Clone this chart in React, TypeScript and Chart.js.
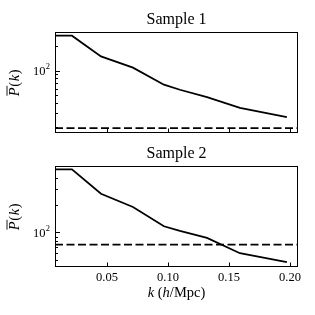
import { useEffect, useRef } from 'react';
import { Chart, registerables } from 'chart.js';

Chart.register(...registerables);

// ---- data ----
const kBins = [0.0074, 0.0213, 0.0451, 0.0713, 0.0967, 0.1098, 0.132, 0.159, 0.1975];
const powerSample1 = [271, 271, 150, 109, 67, 58, 47, 34.5, 26.6];
const powerSample2 = [497, 497, 267, 191, 117, 104, 87, 59, 47];
const noiseSample1 = 19.4;
const noiseSample2 = 73.6;
const panelTitles = ['Sample 1', 'Sample 2'];
const kRange = [0.0074, 0.2066];
const yRangeSample1 = [16.9, 301];
const yRangeSample2 = [41.6, 541];
const xTickValues = [0.05, 0.1, 0.15, 0.2];
const xTickLabels = ['0.05', '0.10', '0.15', '0.20'];
const yLabeledTickValue = 100;
const yLabeledTickBase = '10';
const yLabeledTickExp = '2';
const xAxisLabelParts = [
  { t: 'k', italic: true },
  { t: ' (', italic: false },
  { t: 'h', italic: true },
  { t: '/Mpc)', italic: false },
];
const yAxisLabelParts = [
  { t: 'P', italic: true, bar: true },
  { t: '(', italic: false },
  { t: 'k', italic: true },
  { t: ')', italic: false },
];

const SERIF = '"Liberation Serif", "Times New Roman", serif';

function fontStr(size: number, italic: boolean) {
  return `${italic ? 'italic ' : ''}${size}px ${SERIF}`;
}

const decorPlugin = {
  id: 'decor',
  afterDraw(chart: any, _args: any, opts: any) {
    const { ctx, chartArea: a, scales } = chart;
    const xs = scales.x;
    const ys = scales.y;
    ctx.save();
    ctx.strokeStyle = '#000';
    ctx.fillStyle = '#000';
    ctx.lineWidth = 1;
    // frame
    ctx.strokeRect(a.left + 0.5, a.top + 0.5, a.right - a.left - 1, a.bottom - a.top - 1);
    // x ticks (inward)
    ctx.beginPath();
    for (const v of xTickValues) {
      const px = Math.round(xs.getPixelForValue(v)) + 0.5;
      ctx.moveTo(px, a.bottom);
      ctx.lineTo(px, a.bottom - 4.5);
    }
    // y ticks (log, inward)
    const min = ys.min;
    const max = ys.max;
    for (let e = Math.floor(Math.log10(min)); e <= Math.ceil(Math.log10(max)); e++) {
      for (let m = 1; m <= 9; m++) {
        const v = m * Math.pow(10, e);
        if (v < min || v > max) continue;
        const py = Math.round(ys.getPixelForValue(v)) + 0.5;
        ctx.moveTo(a.left, py);
        ctx.lineTo(a.left + (m === 1 ? 5 : 3), py);
      }
    }
    ctx.stroke();

    // y tick label 10^2
    const py100 = ys.getPixelForValue(yLabeledTickValue);
    ctx.font = fontStr(8.5, false);
    const wExp = ctx.measureText(yLabeledTickExp).width;
    ctx.textAlign = 'left';
    ctx.textBaseline = 'alphabetic';
    ctx.fillText(yLabeledTickExp, 50 - wExp, py100 - 1.5);
    ctx.font = fontStr(12.5, false);
    ctx.textAlign = 'right';
    ctx.fillText(yLabeledTickBase, 50 - wExp - 0.3, py100 + 4.2);

    // title
    ctx.font = fontStr(16, false);
    ctx.textAlign = 'center';
    ctx.fillText(opts.title, (a.left + a.right) / 2, a.top - 8.5);

    // y axis label (rotated)
    const yFs = 14.5;
    ctx.save();
    ctx.translate(19, (a.top + a.bottom) / 2);
    ctx.rotate(-Math.PI / 2);
    let total = 0;
    for (const p of yAxisLabelParts) {
      ctx.font = fontStr(yFs, p.italic);
      total += ctx.measureText(p.t).width + 0.6;
    }
    let cx = -total / 2;
    ctx.textAlign = 'left';
    for (const p of yAxisLabelParts) {
      ctx.font = fontStr(yFs, p.italic);
      const w = ctx.measureText(p.t).width;
      ctx.fillText(p.t, cx, 0);
      if ((p as any).bar) {
        ctx.beginPath();
        ctx.lineWidth = 0.9;
        ctx.moveTo(cx + 0.5, -12);
        ctx.lineTo(cx + w + 1.5, -12);
        ctx.stroke();
      }
      cx += w + 0.6;
    }
    ctx.restore();

    if (opts.showX) {
      // x tick labels
      ctx.font = fontStr(12.5, false);
      ctx.textAlign = 'center';
      xTickValues.forEach((v, i) => {
        ctx.fillText(xTickLabels[i], xs.getPixelForValue(v), a.bottom + 13.8);
      });
      // x axis label
      let tw = 0;
      for (const p of xAxisLabelParts) {
        ctx.font = fontStr(14.5, p.italic);
        tw += ctx.measureText(p.t).width;
      }
      let lx = (a.left + a.right) / 2 - tw / 2;
      ctx.textAlign = 'left';
      for (const p of xAxisLabelParts) {
        ctx.font = fontStr(14.5, p.italic);
        ctx.fillText(p.t, lx, a.bottom + 30);
        lx += ctx.measureText(p.t).width;
      }
    }
    ctx.restore();
  },
};

function makeConfig(power: number[], noise: number, yRange: number[], title: string, showX: boolean, padding: any): any {
  return {
    type: 'line',
    data: {
      datasets: [
        {
          data: kBins.map((k, i) => ({ x: k, y: power[i] })),
          borderColor: '#000',
          borderWidth: 1.8,
          pointRadius: 0,
          tension: 0,
          fill: false,
        },
        {
          data: [
            { x: kRange[0], y: noise },
            { x: kRange[1], y: noise },
          ],
          borderColor: '#000',
          borderWidth: 1.8,
          borderDash: [8, 3.5],
          pointRadius: 0,
          fill: false,
        },
      ],
    },
    options: {
      animation: false,
      responsive: false,
      devicePixelRatio: 1,
      layout: { padding },
      plugins: {
        legend: { display: false },
        tooltip: { enabled: false },
        decor: { title, showX },
      },
      scales: {
        x: { type: 'linear', min: kRange[0], max: kRange[1], display: false },
        y: { type: 'logarithmic', min: yRange[0], max: yRange[1], display: false },
      },
    },
    plugins: [decorPlugin],
  };
}

export default function App() {
  const topRef = useRef<HTMLCanvasElement | null>(null);
  const botRef = useRef<HTMLCanvasElement | null>(null);

  useEffect(() => {
    const c1 = new Chart(
      topRef.current as HTMLCanvasElement,
      makeConfig(powerSample1, noiseSample1, yRangeSample1, panelTitles[0], false, { left: 55, right: 17, top: 32, bottom: 7 })
    );
    const c2 = new Chart(
      botRef.current as HTMLCanvasElement,
      makeConfig(powerSample2, noiseSample2, yRangeSample2, panelTitles[1], true, { left: 55, right: 17, top: 26, bottom: 48 })
    );
    return () => {
      c1.destroy();
      c2.destroy();
    };
  }, []);

  return (
    <div style={{ position: 'fixed', left: 0, top: 0, width: 315, height: 315, background: '#fff' }}>
      <canvas ref={topRef} width={315} height={140} style={{ position: 'absolute', left: 0, top: 0, width: 315, height: 140 }} />
      <canvas ref={botRef} width={315} height={175} style={{ position: 'absolute', left: 0, top: 140, width: 315, height: 175 }} />
    </div>
  );
}
